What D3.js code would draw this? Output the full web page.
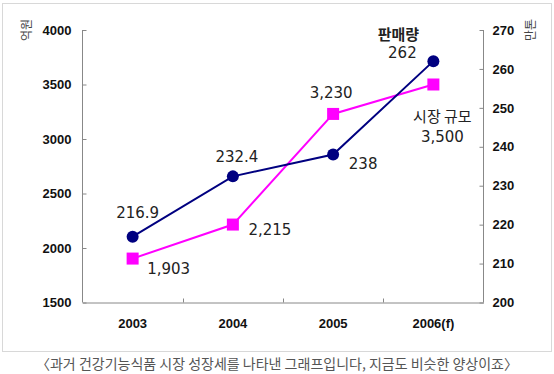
<!DOCTYPE html>
<html><head><meta charset="utf-8">
<script src="https://cdn.jsdelivr.net/npm/d3@7"></script>
<style>body{margin:0;background:#fff}svg{display:block}</style>
</head><body>
<svg id="c" width="554" height="374"></svg>
<script>
const years = ["2003", "2004", "2005", "2006(f)"];
const marketSize = [1903, 2215, 3230, 3500];      // 억원 (left axis)
const salesVolume = [216.9, 232.4, 238, 262];     // 만톤 (right axis)
const marketLabels = ["1,903", "2,215", "3,230", "3,500"];
const salesLabels = ["216.9", "232.4", "238", "262"];
const leftTicks = [1500, 2000, 2500, 3000, 3500, 4000];
const rightTicks = [200, 210, 220, 230, 240, 250, 260, 270];
const seriesNames = ["판매량", "시장 규모"];
const unitLeft = "억원", unitRight = "만톤";
const caption = "〈과거 건강기능식품 시장 성장세를 나타낸 그래프입니다, 지금도 비슷한 양상이죠〉";

// label offsets (annotation layout, not data)
const salesOff = [[5,-24],[4,-19],[30,9],[-31,-8]];
const marketOff = [[36,10],[37,5],[-2,-21],[9,52]];

const svg = d3.select("#c");
const L = 82.5, R = 483.5, T = 30, B = 302.5;
const x = d3.scaleBand().domain(years).range([L, R]);
const yL = d3.scaleLinear().domain([1500, 4000]).range([B, T]);
const yR = d3.scaleLinear().domain([200, 270]).range([B, T]);

// outer frame
svg.append("rect").attr("x", 2.5).attr("y", 3.5).attr("width", 549).attr("height", 348)
  .attr("fill", "none").attr("stroke", "#d8d8d8");

const axisColor = "#888";
const tickFont = "bold 13px 'Liberation Sans', Arial, sans-serif";

// left axis
const gl = svg.append("g").attr("transform", `translate(${L},0)`)
  .call(d3.axisLeft(yL).tickValues(leftTicks).tickFormat(d3.format("d")).tickSize(-4).tickSizeOuter(0).tickPadding(11));
// right axis
const gr = svg.append("g").attr("transform", `translate(${R},0)`)
  .call(d3.axisRight(yR).tickValues(rightTicks).tickFormat(d3.format("d")).tickSize(-4).tickSizeOuter(0).tickPadding(9));
// bottom axis
const gb = svg.append("g").attr("transform", `translate(0,${B})`)
  .call(d3.axisBottom(x).tickSize(0).tickPadding(16));
// category separators ticks on bottom axis
svg.append("g").selectAll("line").data(years.slice(1)).join("line")
  .attr("x1", d => Math.round(x(d)) + 0.5).attr("x2", d => Math.round(x(d)) + 0.5)
  .attr("y1", B).attr("y2", B - 4).attr("stroke", axisColor);

[gl, gr, gb].forEach(g => {
  g.selectAll("path,line").attr("stroke", axisColor);
  g.selectAll("text").style("font", tickFont).attr("fill", "#111");
});
gl.select(".domain").attr("d", `M0,${T}V${B}`);
gr.select(".domain").attr("d", `M0,${T}V${B}`);

// unit titles
svg.append("text").attr("transform", "translate(25,30) rotate(-90)")
  .attr("text-anchor", "middle").attr("dominant-baseline", "central")
  .style("font", "12px 'Noto Sans CJK KR', sans-serif").attr("fill", "#444").text(unitLeft);
svg.append("text").attr("transform", "translate(529,30) rotate(-90)")
  .attr("text-anchor", "middle").attr("dominant-baseline", "central")
  .style("font", "12px 'Noto Sans CJK KR', sans-serif").attr("fill", "#444").text(unitRight);

const cx = d => x(d) + x.bandwidth() / 2;

// market size (pink squares)
const pink = "#ff00ff", navy = "#000080";
svg.append("path").datum(marketSize)
  .attr("d", d3.line().x((d, i) => cx(years[i])).y(d => yL(d)))
  .attr("fill", "none").attr("stroke", pink).attr("stroke-width", 2);
svg.append("g").selectAll("rect").data(marketSize).join("rect")
  .attr("x", (d, i) => cx(years[i]) - 6).attr("y", d => yL(d) - 6)
  .attr("width", 12).attr("height", 12).attr("fill", pink);

// sales volume (navy circles)
svg.append("path").datum(salesVolume)
  .attr("d", d3.line().x((d, i) => cx(years[i])).y(d => yR(d)))
  .attr("fill", "none").attr("stroke", navy).attr("stroke-width", 2);
svg.append("g").selectAll("circle").data(salesVolume).join("circle")
  .attr("cx", (d, i) => cx(years[i])).attr("cy", d => yR(d)).attr("r", 6).attr("fill", navy);

const lblFont = "15px 'DejaVu Sans', 'Noto Sans CJK KR', sans-serif";
svg.append("g").selectAll("text").data(salesVolume).join("text")
  .attr("x", (d, i) => cx(years[i]) + salesOff[i][0]).attr("y", (d, i) => yR(d) + salesOff[i][1])
  .attr("text-anchor", "middle").attr("dominant-baseline", "central")
  .style("font", lblFont).attr("fill", "#222").text((d, i) => salesLabels[i]);
svg.append("g").selectAll("text").data(marketSize).join("text")
  .attr("x", (d, i) => cx(years[i]) + marketOff[i][0]).attr("y", (d, i) => yL(d) + marketOff[i][1])
  .attr("text-anchor", "middle").attr("dominant-baseline", "central")
  .style("font", lblFont).attr("fill", "#222").text((d, i) => marketLabels[i]);

// series names
svg.append("text").attr("x", cx(years[3]) - 35).attr("y", yR(salesVolume[3]) - 28)
  .attr("text-anchor", "middle").attr("dominant-baseline", "central")
  .style("font", "bold 15px 'Noto Sans CJK KR', sans-serif").attr("fill", "#222").text(seriesNames[0]);
svg.append("text").attr("x", cx(years[3]) + 9).attr("y", yL(marketSize[3]) + 31)
  .attr("text-anchor", "middle").attr("dominant-baseline", "central")
  .style("font", "15px 'Noto Sans CJK KR', sans-serif").attr("fill", "#222").text(seriesNames[1]);

// caption
svg.append("text").attr("x", 277).attr("y", 363)
  .attr("text-anchor", "middle").attr("dominant-baseline", "central")
  .style("font", "14px 'Noto Sans CJK KR', sans-serif").attr("fill", "#555").text(caption);
</script>
</body></html>
